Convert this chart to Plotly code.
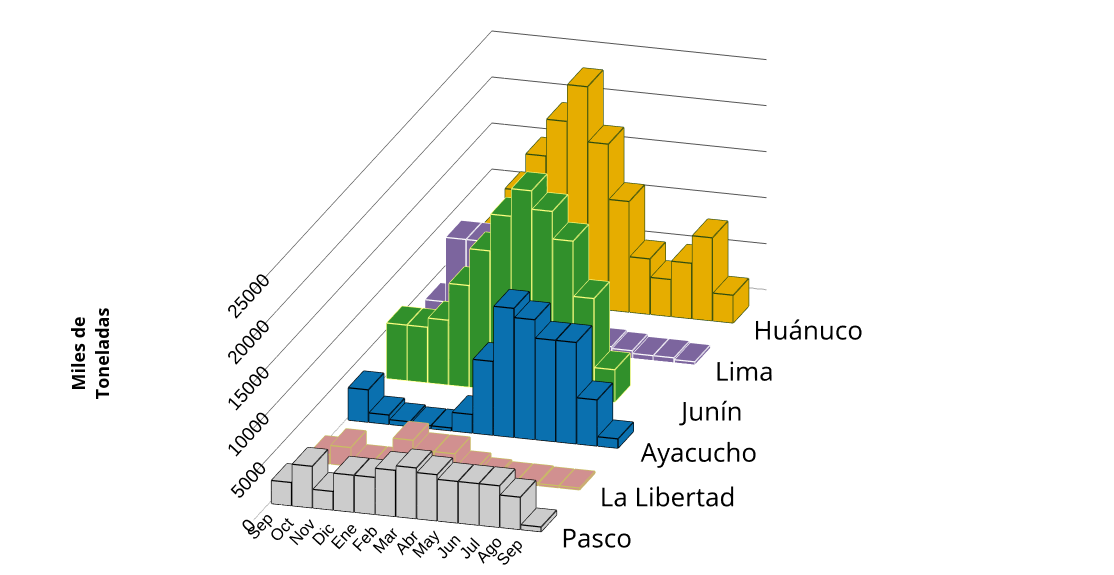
import plotly.graph_objects as go

months = ["Sep", "Oct", "Nov", "Dic", "Ene", "Feb", "Mar", "Abr", "May", "Jun", "Jul", "Ago", "Sep "]
series = ["Pasco", "La Libertad", "Ayacucho", "Junín", "Lima", "Huánuco"]
pasco = [2500, 4500, 2000, 4000, 4000, 5000, 5500, 5000, 4500, 4500, 4500, 3500, 500]
la_libertad = [1000, 2000, 500, 500, 3500, 2500, 2500, 1000, 500, 300, 300, 200, 200]
ayacucho = [3500, 1000, 500, 300, 300, 2000, 8000, 14000, 13000, 11000, 11000, 5000, 1000]
junin = [6000, 6000, 7000, 11000, 15000, 19000, 22000, 20000, 17000, 11000, 3500, 0, 0]
lima = [4000, 11000, 11000, 8000, 5000, 3000, 2000, 1500, 1000, 800, 500, 500, 300]
huanuco = [5000, 8000, 12000, 16000, 20000, 24000, 18000, 12000, 6000, 4000, 6000, 9000, 3000]
values = [pasco, la_libertad, ayacucho, junin, lima, huanuco]
fills = ["#e3e3e3", "#e8a0a0", "#0b7dc2", "#36a030", "#8a70b0", "#ffc000"]
edges = ["#000000", "#c8c060", "#000000", "#ffff80", "#ffffff", "#2a4a10"]

fig = go.Figure()
wx, wy = 0.48, 0.2
for s, (vals, fc, ec) in enumerate(zip(values, fills, edges)):
    X, Y, Z, I, J, K = [], [], [], [], [], []
    lx, ly, lz = [], [], []
    for m, v in enumerate(vals):
        if v <= 0:
            continue
        b = len(X)
        x0, x1, y0, y1 = m - wx, m + wx, s - wy, s + wy
        for zz in (0, v):
            for xx, yy in ((x0, y0), (x1, y0), (x1, y1), (x0, y1)):
                X.append(xx); Y.append(yy); Z.append(zz)
        faces = [(0, 1, 2), (0, 2, 3), (4, 5, 6), (4, 6, 7), (0, 1, 5), (0, 5, 4),
                 (1, 2, 6), (1, 6, 5), (2, 3, 7), (2, 7, 6), (3, 0, 4), (3, 4, 7)]
        for a, c, d in faces:
            I.append(b + a); J.append(b + c); K.append(b + d)
        for p, q in [(0, 1), (1, 2), (2, 3), (3, 0), (4, 5), (5, 6), (6, 7), (7, 4),
                     (0, 4), (1, 5), (2, 6), (3, 7)]:
            lx += [X[b + p], X[b + q], None]
            ly += [Y[b + p], Y[b + q], None]
            lz += [Z[b + p], Z[b + q], None]
    fig.add_trace(go.Mesh3d(x=X, y=Y, z=Z, i=I, j=J, k=K, color=fc, flatshading=True,
                            lighting=dict(ambient=0.9, diffuse=0.3, specular=0.0),
                            lightposition=dict(x=-1000, y=-3000, z=2000),
                            showlegend=False, hoverinfo="skip"))
    fig.add_trace(go.Scatter3d(x=lx, y=ly, z=lz, mode="lines", line=dict(color=ec, width=2.5),
                               showlegend=False, hoverinfo="skip"))

fig.add_trace(go.Scatter3d(x=[12.6] * len(series), y=[s - 0.35 for s in range(len(series))],
                           z=[0] * len(series), mode="text", text=series,
                           textposition="middle right",
                           textfont=dict(size=26, family="Open Sans", color="#000"),
                           showlegend=False, hoverinfo="skip"))

fig.add_annotation(text="<b>Miles de<br>Toneladas</b>", x=0.05, y=0.4, xref="paper", yref="paper",
                   showarrow=False, textangle=-90, font=dict(size=18, family="Open Sans"))

fig.update_layout(
    width=1114, height=575, paper_bgcolor="white", margin=dict(l=0, r=0, t=0, b=0),
    font=dict(family="Liberation Sans", color="#000"),
    scene=dict(
        xaxis=dict(title="", tickvals=list(range(len(months))), ticktext=months,
                   showgrid=False, showbackground=False, range=[-0.6, 12.6],
                   tickfont=dict(size=14), showspikes=False),
        yaxis=dict(title="", showticklabels=False, showgrid=False, showbackground=False,
                   range=[-0.6, 5.6], showspikes=False),
        zaxis=dict(title="", tickvals=[0, 5000, 10000, 15000, 20000, 25000], tickformat="d",
                   range=[0, 25000], gridcolor="#555", showbackground=False,
                   tickfont=dict(size=15), showspikes=False),
        aspectmode="manual", aspectratio=dict(x=1.0, y=2.8, z=0.85),
        camera=dict(eye=dict(x=0.68, y=-1.55, z=0.58), center=dict(x=0.2, y=0, z=0),
                    projection=dict(type="orthographic")),
    ),
)
fig.write_html("out.html")
